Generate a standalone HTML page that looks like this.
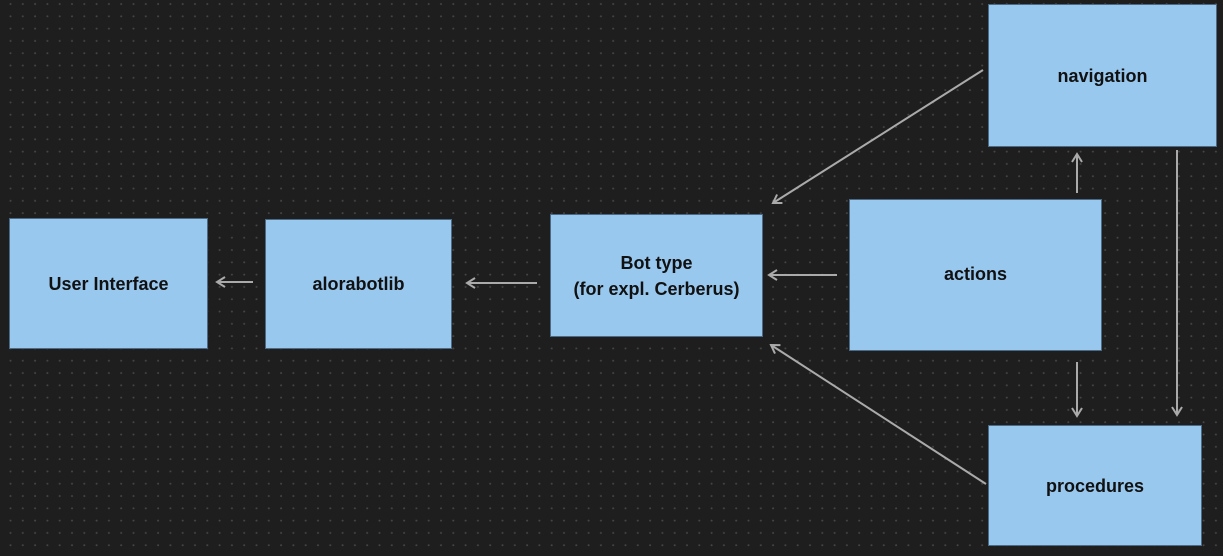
<!DOCTYPE html>
<html><head><style>
html,body{margin:0;padding:0;background:#1e1e1e;}
body{width:1223px;height:556px;position:relative;overflow:hidden;font-family:"Liberation Sans",sans-serif;}
.b{position:absolute;background:#99c8ef;border:1px solid #4a6a85;box-sizing:border-box;display:flex;align-items:center;justify-content:center;text-align:center;font-weight:bold;font-size:18px;color:#111;line-height:26px;}
svg{position:absolute;left:0;top:0;}
</style></head><body>
<svg width="1223" height="556">
<defs>
<pattern id="d" x="4.5" y="-2" width="12.3" height="12.3" patternUnits="userSpaceOnUse"><circle cx="6" cy="6" r="1" fill="#454545"/></pattern>
<marker id="a" markerWidth="14" markerHeight="14" refX="10" refY="7" orient="auto" markerUnits="userSpaceOnUse"><path d="M2,2 L10,7 L2,12" fill="none" stroke="#aaa" stroke-width="2"/></marker>
</defs>
<rect width="1223" height="556" fill="url(#d)"/>
<g stroke="#aaa" stroke-width="2" fill="none" marker-end="url(#a)">
<line x1="253" y1="282" x2="217" y2="282"/>
<line x1="537" y1="283" x2="467" y2="283"/>
<line x1="837" y1="275" x2="769" y2="275"/>
<line x1="983" y1="70" x2="773" y2="203"/>
<line x1="986" y1="484" x2="771" y2="345"/>
<line x1="1077" y1="193" x2="1077" y2="154"/>
<line x1="1077" y1="362" x2="1077" y2="416"/>
<line x1="1177" y1="150" x2="1177" y2="415"/>
</g>
</svg>
<div class="b" style="left:9px;top:218px;width:199px;height:131px;">User Interface</div>
<div class="b" style="left:265px;top:219px;width:187px;height:130px;">alorabotlib</div>
<div class="b" style="left:550px;top:214px;width:213px;height:123px;">Bot type<br>(for expl. Cerberus)</div>
<div class="b" style="left:849px;top:199px;width:253px;height:152px;padding-bottom:2px;">actions</div>
<div class="b" style="left:988px;top:4px;width:229px;height:143px;">navigation</div>
<div class="b" style="left:988px;top:425px;width:214px;height:121px;">procedures</div>
</body></html>
